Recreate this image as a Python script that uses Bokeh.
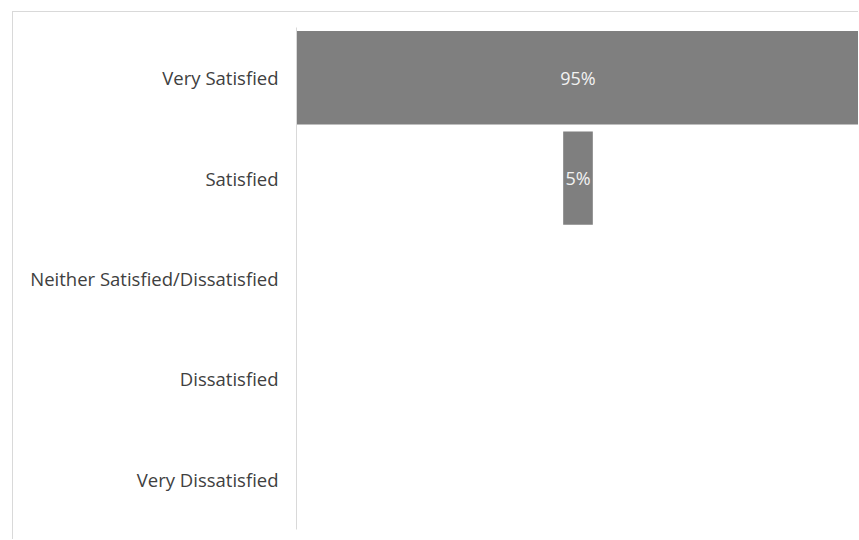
from bokeh.plotting import figure
from bokeh.models import Range1d, FixedTicker, ColumnDataSource
from bokeh.core.properties import value
from bokeh.embed import file_html
from bokeh.resources import INLINE

categories = ["Very Satisfied", "Satisfied", "Neither Satisfied/Dissatisfied",
              "Dissatisfied", "Very Dissatisfied"]
values = [95, 5, 0, 0, 0]

n = len(categories)
ypos = [n - i - 0.5 for i in range(n)]
half = [v / 2 for v in values]

src = ColumnDataSource(dict(
    y=ypos, left=[-h for h in half], right=half, val=values,
))
lab_src = ColumnDataSource(dict(
    y=[y for y, v in zip(ypos, values) if v > 0],
    x=[0 for v in values if v > 0],
    label=[f"{v}%" for v in values if v > 0],
))

p = figure(width=846, height=528, output_backend="svg", toolbar_location=None,
           x_range=Range1d(-47.5, 47.5), y_range=Range1d(0, n),
           x_axis_location=None, min_border_left=283, min_border_right=0,
           min_border_top=15, min_border_bottom=11)
p.styles = {"border-top": "1px solid #d9d9d9", "border-left": "1px solid #d9d9d9",
            "margin-left": "12px", "margin-top": "11px"}
p.outline_line_color = None
p.grid.visible = False
p.background_fill_color = "white"
p.border_fill_color = "white"

p.hbar(y="y", left="left", right="right", height=0.93, source=src,
       fill_color="#7f7f7f", line_color=None)
p.text(x="x", y="y", text="label", source=lab_src, text_align="center",
       text_baseline="middle", text_color="#f2f2f2",
       text_font=value("Open Sans"), text_font_size="18px")

ax = p.yaxis[0]
ax.ticker = FixedTicker(ticks=ypos)
ax.major_label_overrides = {y: c for y, c in zip(ypos, categories)}
ax.bounds = (0, n)
ax.axis_line_color = "#d9d9d9"
ax.axis_line_width = 1
ax.major_tick_line_color = None
ax.minor_tick_line_color = None
ax.major_tick_out = 0
ax.major_tick_in = 0
ax.major_label_standoff = 18
ax.major_label_text_font = "Open Sans"
ax.major_label_text_font_size = "18.5px"
ax.major_label_text_color = "#404040"

open("out.html", "w").write(file_html(p, INLINE))
